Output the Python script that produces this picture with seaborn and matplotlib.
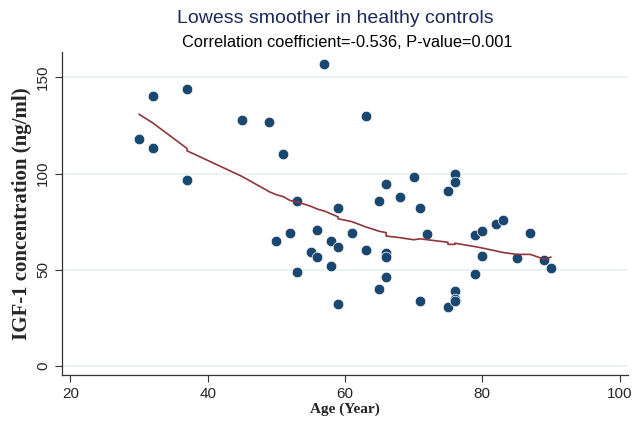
import numpy as np
import matplotlib
matplotlib.use("Agg")
import matplotlib.pyplot as plt
import pandas as pd
import seaborn as sns

# healthy controls: age vs IGF-1
age = [30, 32, 32, 37, 37, 45, 49, 51, 50, 52, 53, 53, 57, 55, 56, 56, 58, 58,
       59, 59, 59, 61, 63, 63, 65, 65, 66, 66, 66, 66, 68, 70, 71, 71, 72, 75,
       75, 76, 76, 76, 76, 76, 79, 79, 80, 80, 82, 83, 85, 87, 89, 90]
igf1 = [118, 140, 113, 144, 96.5, 128, 127, 110, 65, 69, 85.5, 49, 157, 59, 70.5, 56.5, 65, 52,
        82, 62, 32, 69, 130, 60.5, 85.5, 40, 94.5, 58.5, 56.5, 46, 88, 98, 82, 34, 68.5, 91,
        30.5, 100, 95.5, 39, 35, 34, 68, 48, 70, 57, 74, 76, 56, 69, 55, 51]

# lowess fit as drawn (Stata style, small steps at tied ages)
fit_age = [30, 32, 37, 37, 45, 49, 50, 51, 52, 53, 55, 56, 57, 58, 59, 59, 61, 63,
           65, 66, 66, 68, 70, 71, 72, 75, 75, 76, 76, 79, 80, 82, 83, 85, 87, 89, 90]
fit_val = [130.8, 126.3, 113, 111.8, 98.5, 90.5, 89, 88, 86, 85.3, 83, 81.5, 80.5, 79, 77.5, 76.5, 75, 72.3,
           70, 69.3, 67.5, 66.7, 65.6, 66.1, 65.6, 64.3, 63.2, 63.2, 63.8, 62, 61.3, 59.8, 59, 58, 58, 55.5, 56.6]

df = pd.DataFrame({"age": age, "igf1": igf1})
fit = pd.DataFrame({"age": fit_age, "fit": fit_val})

sns.set_style("white")
plt.rcParams["font.family"] = ["Liberation Sans", "DejaVu Sans"]

fig = plt.figure(figsize=(6.4, 4.21), dpi=100)
ax = fig.add_axes([0.097, 0.109, 0.884, 0.767])

ax.grid(axis="y", color="#e6eff0", linewidth=1.2)
ax.set_axisbelow(True)

sns.scatterplot(data=df, x="age", y="igf1", ax=ax, color="#1a476f", s=58,
                edgecolor="white", linewidth=0.5, zorder=3)
sns.lineplot(data=fit, x="age", y="fit", ax=ax, sort=False, estimator=None,
             color="#90353b", linewidth=1.2, zorder=4)

ax.set_xlim(18.8, 101.2)
ax.set_ylim(-4.7, 163)
ax.set_xticks([20, 40, 60, 80, 100])
ax.set_yticks([0, 50, 100, 150])
ax.tick_params(axis="both", direction="out", length=5, width=0.8, color="#333333",
               labelsize=11, bottom=True, left=True)
for lab in ax.get_yticklabels():
    lab.set_rotation(90)
    lab.set_va("center")

sns.despine(ax=ax)
for sp in ["left", "bottom"]:
    ax.spines[sp].set_color("#333333")
    ax.spines[sp].set_linewidth(0.9)

ax.set_xlabel("Age (Year)", family="Liberation Serif", fontweight="bold", fontsize=11, labelpad=1)
ax.set_ylabel("IGF-1 concentration (ng/ml)", family="Liberation Serif", fontweight="bold",
              fontsize=15, labelpad=3)

fig.text(0.524, 0.957, "Lowess smoother in healthy controls", ha="center", va="center",
         fontsize=14, color="#1c2a5a")
fig.text(0.543, 0.898, "Correlation coefficient=-0.536, P-value=0.001", ha="center", va="center",
         fontsize=11.8, color="black")

fig.savefig("out.png", dpi=100)
